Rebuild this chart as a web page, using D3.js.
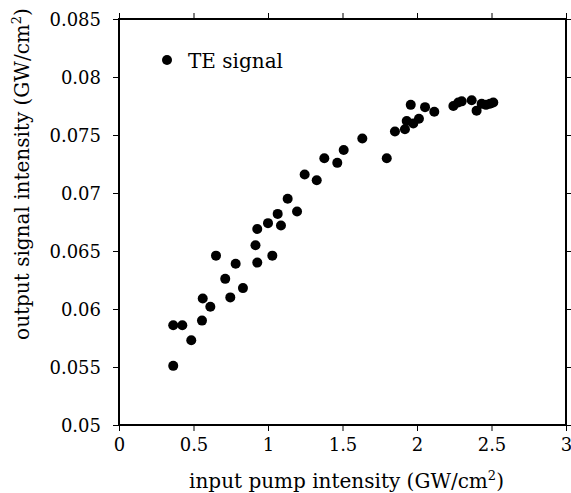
<!DOCTYPE html>
<html>
<head>
<meta charset="utf-8">
<script src="https://cdn.jsdelivr.net/npm/d3@7"></script>
<style>
  body { margin: 0; background: #fff; }
  svg text { font-family: "DejaVu Serif", serif; fill: #000; }
</style>
</head>
<body>
<div id="chart"></div>
<script>
// data
const pumpIntensity = [0.364, 0.364, 0.425, 0.485, 0.557, 0.562, 0.613, 0.651, 0.713, 0.747,
  0.783, 0.832, 0.928, 0.916, 0.928, 1.0, 1.029, 1.065, 1.087, 1.132,
  1.195, 1.246, 1.327, 1.378, 1.465, 1.508, 1.633, 1.797, 1.852, 1.919,
  1.931, 1.975, 1.958, 2.013, 2.054, 2.116, 2.244, 2.277, 2.30, 2.367,
  2.40, 2.434, 2.463, 2.49, 2.512];
const signalIntensity = [0.0551, 0.0586, 0.0586, 0.0573, 0.0590, 0.0609, 0.0602, 0.0646, 0.0626, 0.0610,
  0.0639, 0.0618, 0.0640, 0.0655, 0.0669, 0.0674, 0.0646, 0.0682, 0.0672, 0.0695,
  0.0684, 0.0716, 0.0711, 0.0730, 0.0726, 0.0737, 0.0747, 0.0730, 0.0753, 0.0755,
  0.0762, 0.0760, 0.0776, 0.0764, 0.0774, 0.0770, 0.0775, 0.0778, 0.0779, 0.0780,
  0.0771, 0.0777, 0.0776, 0.0777, 0.0778];
const xTicks = [0, 0.5, 1, 1.5, 2, 2.5, 3];
const yTicks = [0.05, 0.055, 0.06, 0.065, 0.07, 0.075, 0.08, 0.085];
const seriesName = "TE signal";

const margin = {top: 19, right: 5, bottom: 68, left: 119};
const width = 571 - margin.left - margin.right;
const height = 493 - margin.top - margin.bottom;

const svg = d3.select("#chart").append("svg")
  .attr("width", 571)
  .attr("height", 493)
  .append("g")
  .attr("transform", "translate(" + margin.left + "," + margin.top + ")");

const x = d3.scaleLinear().domain([0, 3]).range([0, width]);
const y = d3.scaleLinear().domain([0.05, 0.085]).range([height, 0]);

const fmtX = d => d3.format("")(d);
const fmtY = d => String(+d.toFixed(3));

// axes, ticks pointing outward on all sides
const xAxis = svg.append("g")
  .attr("transform", "translate(0," + height + ")")
  .call(d3.axisBottom(x).tickValues(xTicks).tickFormat(fmtX).tickSize(6).tickPadding(7));
const xTop = svg.append("g")
  .call(d3.axisTop(x).tickValues(xTicks).tickFormat("").tickSize(6));
const yAxis = svg.append("g")
  .call(d3.axisLeft(y).tickValues(yTicks).tickFormat(fmtY).tickSize(6).tickPadding(12));
const yRight = svg.append("g")
  .attr("transform", "translate(" + width + ",0)")
  .call(d3.axisRight(y).tickValues(yTicks).tickFormat("").tickSize(6));

svg.selectAll(".domain").remove();
svg.selectAll(".tick line").attr("stroke", "#000").attr("stroke-width", 1);
svg.selectAll(".tick text")
  .attr("font-family", "DejaVu Serif")
  .attr("font-size", 18)
  .attr("fill", "#000");
yAxis.selectAll(".tick text").attr("dy", "0.36em");

// frame
svg.append("rect")
  .attr("x", 0).attr("y", 0)
  .attr("width", width).attr("height", height)
  .attr("fill", "none")
  .attr("stroke", "#000")
  .attr("stroke-width", 2);

// points
svg.selectAll(".dot")
  .data(pumpIntensity.map((d, i) => ({x: d, y: signalIntensity[i]})))
  .enter().append("circle")
  .attr("class", "dot")
  .attr("cx", d => x(d.x))
  .attr("cy", d => y(d.y))
  .attr("r", 5)
  .attr("fill", "#000");

// legend
svg.append("circle")
  .attr("cx", 48).attr("cy", 41).attr("r", 5).attr("fill", "#000");
svg.append("text")
  .attr("x", 69).attr("y", 49)
  .attr("font-size", 20)
  .text(seriesName);

// axis titles
const xTitle = svg.append("text")
  .attr("x", width / 2 + 4)
  .attr("y", height + 63)
  .attr("text-anchor", "middle")
  .attr("font-size", 20);
xTitle.append("tspan").text("input pump intensity (GW/cm");
xTitle.append("tspan").attr("font-size", 13).attr("dy", -8).text("2");
xTitle.append("tspan").attr("dy", 8).text(")");

const yTitle = svg.append("text")
  .attr("transform", "rotate(-90)")
  .attr("x", -155)
  .attr("y", -90)
  .attr("text-anchor", "middle")
  .attr("font-size", 20);
yTitle.append("tspan").text("output signal intensity (GW/cm");
yTitle.append("tspan").attr("font-size", 13).attr("dy", -8).text("2");
yTitle.append("tspan").attr("dy", 8).text(")");
</script>
</body>
</html>
